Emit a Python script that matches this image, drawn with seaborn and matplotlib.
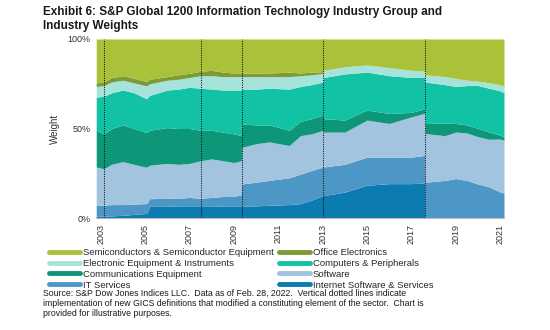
import matplotlib
matplotlib.use("Agg")
import matplotlib.pyplot as plt
from matplotlib.lines import Line2D
import seaborn as sns
import numpy as np

# ---- data (weights in %) ----
years = [2002.80, 2003.14, 2003.5, 2004.0, 2004.5, 2005.0, 2005.10, 2005.20, 2006.0, 2006.5,
         2007.0, 2007.5, 2008.0, 2008.5, 2009.0, 2009.34, 2009.36, 2010.0, 2010.6, 2011.5,
         2012.0, 2012.5, 2013.02, 2013.04, 2014.0, 2015.0, 2016.0, 2017.0, 2017.60, 2017.62,
         2018.5, 2019.0, 2019.5, 2020.0, 2020.5, 2021.0, 2021.17]

internet_sw = [1.0, 1.0, 1.2, 1.5, 2.0, 2.5, 3.0, 6.5, 6.5, 6.8,
               6.8, 6.8, 6.8, 6.5, 6.5, 6.5, 6.5, 6.8, 7.1, 7.5,
               8.0, 10.0, 12.5, 12.5, 14.5, 18.3, 19.2, 19.2, 19.5, 0.0,
               0.0, 0.0, 0.0, 0.0, 0.0, 0.0, 0.0]
it_services = [6.0, 6.2, 6.3, 6.0, 5.8, 5.5, 5.5, 4.3, 4.5, 4.2,
               4.7, 4.2, 4.7, 5.5, 5.5, 6.5, 12.5, 13.2, 13.9, 15.0,
               16.5, 16.5, 16.0, 16.0, 15.5, 15.7, 14.8, 14.8, 15.5, 20.0,
               21.0, 22.0, 21.0, 19.0, 17.4, 14.5, 14.0]
software = [21.5, 20.3, 22.5, 24.0, 22.2, 20.5, 20.0, 18.7, 19.5, 19.0,
            19.0, 21.0, 21.5, 20.0, 19.0, 19.0, 20.5, 21.5, 21.5, 18.0,
            21.5, 20.5, 20.5, 19.5, 18.0, 20.7, 18.8, 22.5, 23.5, 27.2,
            25.0, 26.0, 26.5, 26.4, 26.6, 29.6, 29.5]
comm_equip = [20.5, 19.5, 20.0, 20.5, 20.0, 19.5, 19.5, 19.5, 20.0, 20.0,
              19.5, 17.0, 16.0, 16.0, 16.0, 14.0, 13.0, 10.5, 9.5, 8.5,
              8.0, 8.5, 8.5, 7.5, 6.7, 5.6, 5.6, 2.5, 2.5, 5.6,
              7.0, 4.8, 4.5, 4.6, 4.0, 2.2, 1.5]
computers = [18.5, 21.0, 20.0, 19.5, 20.0, 19.0, 19.0, 19.5, 21.0, 22.0,
             23.0, 23.5, 23.0, 23.5, 24.5, 25.5, 19.5, 20.0, 20.5, 23.0,
             19.5, 19.0, 18.5, 23.0, 25.8, 21.2, 21.1, 19.5, 17.5, 23.2,
             21.5, 20.7, 22.0, 24.0, 24.5, 24.7, 25.0]
electronic_eq = [6.0, 6.0, 6.0, 5.5, 5.5, 7.0, 7.0, 6.5, 5.5, 5.5,
                 5.5, 7.0, 7.5, 7.5, 7.5, 7.5, 7.0, 7.0, 6.5, 7.0,
                 6.0, 5.5, 4.8, 4.0, 4.0, 4.0, 4.5, 4.0, 3.5, 4.0,
                 4.5, 4.5, 3.0, 2.5, 3.0, 3.5, 3.5]
office_elec = [2.0, 2.0, 2.5, 2.5, 2.5, 2.5, 2.5, 2.5, 2.0, 2.5,
               2.3, 2.5, 3.0, 2.5, 2.0, 2.0, 2.0, 2.0, 2.0, 2.5,
               1.5, 1.5, 0.9, 0.0, 0.0, 0.0, 0.0, 0.0, 0.0, 0.0,
               0.0, 0.0, 0.0, 0.0, 0.0, 0.0, 0.0]
semis = [24.5, 24.0, 21.5, 20.5, 22.0, 23.5, 23.5, 22.5, 21.0, 20.0,
         19.2, 18.0, 17.5, 18.5, 19.0, 19.0, 19.0, 19.0, 19.0, 18.5,
         19.0, 18.5, 18.3, 17.5, 15.5, 14.5, 16.0, 17.5, 18.0, 20.0,
         21.0, 22.0, 23.0, 23.5, 24.5, 25.5, 26.5]

gics_changes = [2003.14, 2007.50, 2009.35, 2013.03, 2017.61]
xtick_years = list(range(2003, 2022, 2))

series_names = ["Internet Software & Services", "IT Services", "Software",
                "Communications Equipment", "Computers & Peripherals",
                "Electronic Equipment & Instruments", "Office Electronics",
                "Semiconductors & Semiconductor Equipment"]
series_vals = [internet_sw, it_services, software, comm_equip, computers,
               electronic_eq, office_elec, semis]
colors = ["#0b7bb0", "#4d97c6", "#a3c4de", "#0e9679", "#12c2a4",
          "#a6e3da", "#7d9a35", "#a9c23a"]

# ---- style ----
sns.set_theme(style="white")
plt.rcParams['font.family'] = ['Liberation Sans', 'DejaVu Sans']

fig = plt.figure(figsize=(5.5, 3.3), dpi=100)
ax = fig.add_axes([96 / 550, 112 / 330, 408 / 550, 179 / 330])

ax.stackplot(years, *series_vals, colors=colors, labels=series_names, linewidth=0)

for g in gics_changes:
    ax.axvline(g, color="#111111", linestyle=(0, (1, 1.2)), linewidth=0.75)

ax.set_xlim(2002.79, 2021.17)
ax.set_ylim(0, 100)
ax.set_yticks([0, 50, 100])
ax.set_yticklabels(["0%", "50%", "100%"], fontsize=6.5, color="#333333")
ax.set_xticks(xtick_years)
ax.set_xticklabels([str(y) for y in xtick_years], rotation=90, fontsize=6.5, color="#333333")
ax.tick_params(axis="both", length=2, width=0.6, color="#999999", pad=2)
ax.set_ylabel("Weight", fontsize=7, color="#333333", labelpad=5)

for s in ["top", "right", "left"]:
    ax.spines[s].set_visible(False)
ax.spines["bottom"].set_color("#bbbbbb")
ax.spines["bottom"].set_linewidth(0.8)

# ---- title ----
fig.text(43 / 550, 1 - 6 / 330,
         "Exhibit 6: S&P Global 1200 Information Technology Industry Group and\nIndustry Weights",
         fontsize=8.5, fontweight="bold", color="#1a1a1a", va="top", ha="left",
         linespacing=1.25)

# ---- legend (row-wise order as in the reference) ----
order = [7, 5, 3, 1, 6, 4, 2, 0]
leg_handles = [Line2D([0], [0], color=colors[i], linewidth=3.5) for i in order]
leg_labels = [series_names[i] for i in order]
fig.legend(leg_handles, leg_labels, loc="upper left", ncol=2,
           bbox_to_anchor=(49 / 550, 1 - 248 / 330), frameon=False,
           fontsize=6.8, handlelength=3.3, handletextpad=0.25,
           columnspacing=0.6, labelspacing=0.2, borderaxespad=0, borderpad=0)

# ---- source note ----
fig.text(43 / 550, 1 - 289 / 330,
         "Source: S&P Dow Jones Indices LLC.  Data as of Feb. 28, 2022.  Vertical dotted lines indicate\n"
         "implementation of new GICS definitions that modified a constituting element of the sector.  Chart is\n"
         "provided for illustrative purposes.",
         fontsize=6.3, color="#1a1a1a", va="top", ha="left", linespacing=1.15)

fig.savefig("out.png", dpi=100)
